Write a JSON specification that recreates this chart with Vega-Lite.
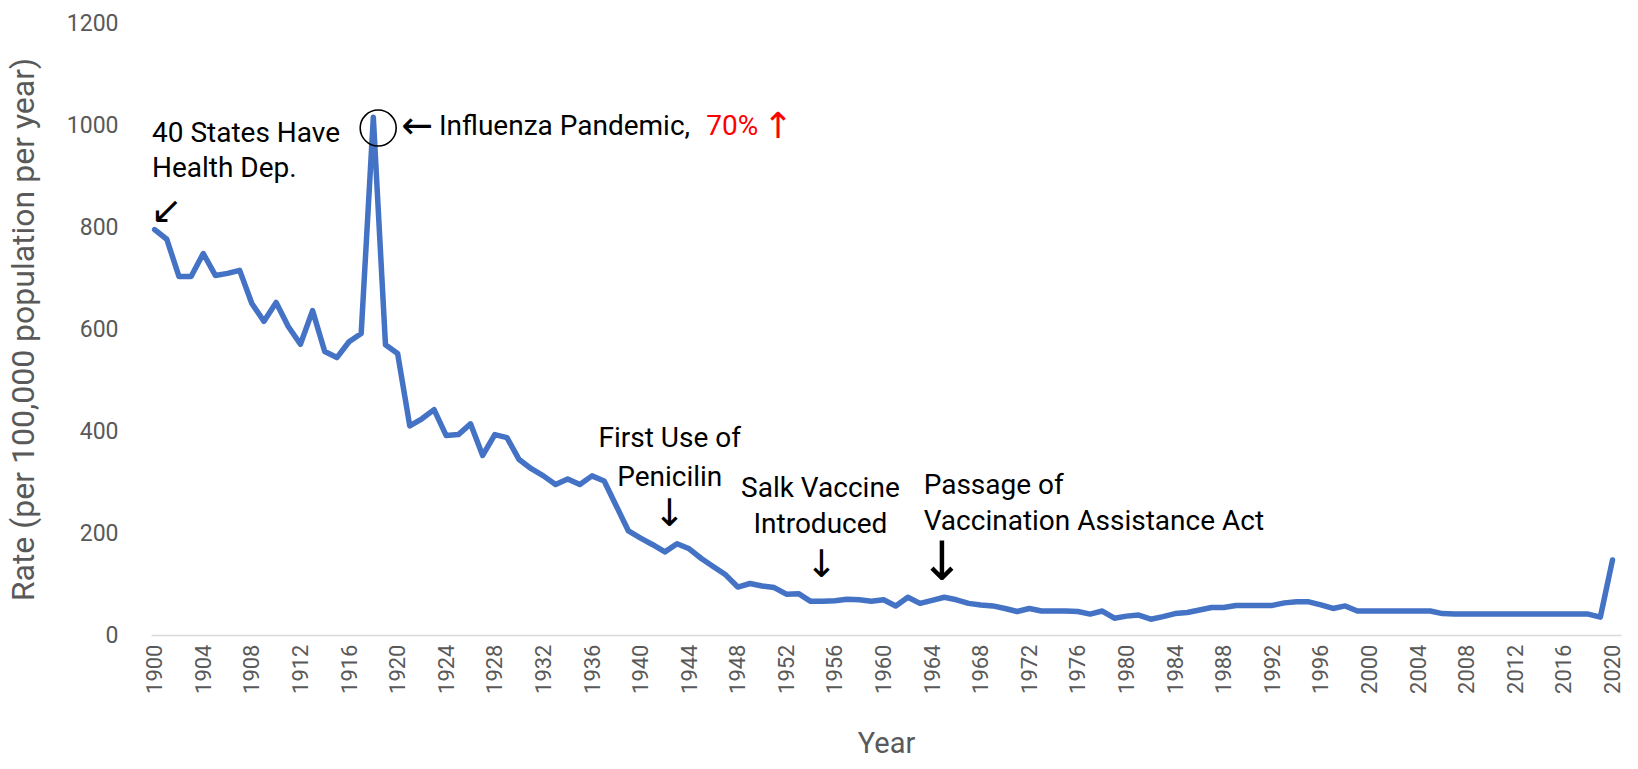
{
  "$schema": "https://vega.github.io/schema/vega-lite/v6.json",
  "width": 1470,
  "height": 612,
  "autosize": "none",
  "padding": {"left": 151, "top": 23, "right": 17, "bottom": 134},
  "background": "white",
  "config": {"view": {"stroke": null}, "font": "Roboto"},
  "datasets": {
    "rates": [
      {"year": 1900, "rate": 795}, {"year": 1901, "rate": 776}, {"year": 1902, "rate": 703}, {"year": 1903, "rate": 703},
      {"year": 1904, "rate": 748}, {"year": 1905, "rate": 705}, {"year": 1906, "rate": 709}, {"year": 1907, "rate": 715},
      {"year": 1908, "rate": 650}, {"year": 1909, "rate": 615}, {"year": 1910, "rate": 652}, {"year": 1911, "rate": 605},
      {"year": 1912, "rate": 570}, {"year": 1913, "rate": 636}, {"year": 1914, "rate": 556}, {"year": 1915, "rate": 544},
      {"year": 1916, "rate": 575}, {"year": 1917, "rate": 591}, {"year": 1918, "rate": 1015}, {"year": 1919, "rate": 569},
      {"year": 1920, "rate": 552}, {"year": 1921, "rate": 410}, {"year": 1922, "rate": 424}, {"year": 1923, "rate": 442},
      {"year": 1924, "rate": 391}, {"year": 1925, "rate": 393}, {"year": 1926, "rate": 414}, {"year": 1927, "rate": 352},
      {"year": 1928, "rate": 393}, {"year": 1929, "rate": 387}, {"year": 1930, "rate": 344}, {"year": 1931, "rate": 326},
      {"year": 1932, "rate": 312}, {"year": 1933, "rate": 295}, {"year": 1934, "rate": 306}, {"year": 1935, "rate": 295},
      {"year": 1936, "rate": 312}, {"year": 1937, "rate": 302}, {"year": 1938, "rate": 253}, {"year": 1939, "rate": 204},
      {"year": 1940, "rate": 190}, {"year": 1941, "rate": 177}, {"year": 1942, "rate": 163}, {"year": 1943, "rate": 179},
      {"year": 1944, "rate": 169}, {"year": 1945, "rate": 150}, {"year": 1946, "rate": 134}, {"year": 1947, "rate": 118},
      {"year": 1948, "rate": 94}, {"year": 1949, "rate": 101}, {"year": 1950, "rate": 96}, {"year": 1951, "rate": 93},
      {"year": 1952, "rate": 80}, {"year": 1953, "rate": 81}, {"year": 1954, "rate": 66}, {"year": 1955, "rate": 66},
      {"year": 1956, "rate": 67}, {"year": 1957, "rate": 70}, {"year": 1958, "rate": 69}, {"year": 1959, "rate": 66},
      {"year": 1960, "rate": 69}, {"year": 1961, "rate": 57}, {"year": 1962, "rate": 74}, {"year": 1963, "rate": 62},
      {"year": 1964, "rate": 68}, {"year": 1965, "rate": 74}, {"year": 1966, "rate": 69}, {"year": 1967, "rate": 62},
      {"year": 1968, "rate": 59}, {"year": 1969, "rate": 57}, {"year": 1970, "rate": 52}, {"year": 1971, "rate": 46},
      {"year": 1972, "rate": 52}, {"year": 1973, "rate": 47}, {"year": 1974, "rate": 47}, {"year": 1975, "rate": 47},
      {"year": 1976, "rate": 46}, {"year": 1977, "rate": 41}, {"year": 1978, "rate": 47}, {"year": 1979, "rate": 33},
      {"year": 1980, "rate": 37}, {"year": 1981, "rate": 39}, {"year": 1982, "rate": 31}, {"year": 1983, "rate": 36},
      {"year": 1984, "rate": 42}, {"year": 1985, "rate": 44}, {"year": 1986, "rate": 49}, {"year": 1987, "rate": 54},
      {"year": 1988, "rate": 54}, {"year": 1989, "rate": 58}, {"year": 1990, "rate": 58}, {"year": 1991, "rate": 58},
      {"year": 1992, "rate": 58}, {"year": 1993, "rate": 63}, {"year": 1994, "rate": 65}, {"year": 1995, "rate": 65},
      {"year": 1996, "rate": 59}, {"year": 1997, "rate": 52}, {"year": 1998, "rate": 57}, {"year": 1999, "rate": 47},
      {"year": 2000, "rate": 47}, {"year": 2001, "rate": 47}, {"year": 2002, "rate": 47}, {"year": 2003, "rate": 47},
      {"year": 2004, "rate": 47}, {"year": 2005, "rate": 47}, {"year": 2006, "rate": 42}, {"year": 2007, "rate": 41},
      {"year": 2008, "rate": 41}, {"year": 2009, "rate": 41}, {"year": 2010, "rate": 41}, {"year": 2011, "rate": 41},
      {"year": 2012, "rate": 41}, {"year": 2013, "rate": 41}, {"year": 2014, "rate": 41}, {"year": 2015, "rate": 41},
      {"year": 2016, "rate": 41}, {"year": 2017, "rate": 41}, {"year": 2018, "rate": 41}, {"year": 2019, "rate": 35},
      {"year": 2020, "rate": 147}
    ],
    "peak": [{"year": 1918.4, "rate": 994}],
    "notesLeft": [
      {"year": 1899.78, "rate": 982, "label": "40 States Have"},
      {"year": 1899.78, "rate": 914, "label": "Health Dep."},
      {"year": 1923.4, "rate": 996, "label": "Influenza Pandemic,"},
      {"year": 1963.3, "rate": 292, "label": "Passage of"},
      {"year": 1963.3, "rate": 222, "label": "Vaccination Assistance Act"}
    ],
    "notesRed": [{"year": 1945.4, "rate": 996, "label": "70%"}],
    "redArrow": [{"year": 1951.3, "rate": 996, "label": "↑"}],
    "notesCenter": [
      {"year": 1942.4, "rate": 384, "label": "First Use of"},
      {"year": 1942.4, "rate": 308, "label": "Penicilin"},
      {"year": 1954.8, "rate": 286, "label": "Salk Vaccine"},
      {"year": 1954.8, "rate": 216, "label": "Introduced"}
    ],
    "arrows": [
      {"year": 1901.0, "rate": 829, "label": "↙"},
      {"year": 1921.6, "rate": 996, "label": "←"},
      {"year": 1942.4, "rate": 235, "label": "↓"},
      {"year": 1954.9, "rate": 135, "label": "↓"}
    ],
    "bigArrow": [{"year": 1964.8, "rate": 139, "label": "↓"}]
  },
  "layer": [
    {
      "data": {"name": "rates"},
      "mark": {"type": "line", "color": "#4472C4", "strokeWidth": 5.5, "strokeJoin": "round", "strokeCap": "round"},
      "encoding": {
        "x": {
          "field": "year", "type": "quantitative",
          "scale": {"domain": [1899.7, 2020.7], "nice": false, "zero": false},
          "axis": {
            "title": "Year", "values": [1900,1904,1908,1912,1916,1920,1924,1928,1932,1936,1940,1944,1948,1952,1956,1960,1964,1968,1972,1976,1980,1984,1988,1992,1996,2000,2004,2008,2012,2016,2020],
            "format": "d", "labelAngle": -90, "labelFontSize": 22, "labelColor": "#595959", "labelPadding": 9,
            "ticks": false, "tickSize": 0, "grid": false, "domainColor": "#D9D9D9", "domainWidth": 1.5,
            "titleFontSize": 29, "titleFontWeight": "normal", "titleColor": "#595959", "titlePadding": 36,
            "labelFont": "Roboto", "titleFont": "Roboto", "labelOverlap": false
          }
        },
        "y": {
          "field": "rate", "type": "quantitative",
          "scale": {"domain": [0, 1200], "nice": false},
          "axis": {
            "title": "Rate (per 100,000 population per year)", "values": [0,200,400,600,800,1000,1200], "format": "d",
            "labelFontSize": 23, "labelColor": "#595959", "labelPadding": 33, "ticks": false, "tickSize": 0,
            "grid": false, "domain": false, "titleFontSize": 32, "titleFontWeight": "normal", "titleColor": "#595959",
            "titlePadding": 26, "labelFont": "Roboto", "titleFont": "Roboto"
          }
        }
      }
    },
    {
      "data": {"name": "peak"},
      "mark": {"type": "point", "shape": "circle", "filled": false, "size": 1296, "stroke": "#000000", "strokeWidth": 1.6, "opacity": 1},
      "encoding": {"x": {"field": "year", "type": "quantitative"}, "y": {"field": "rate", "type": "quantitative"}}
    },
    {
      "data": {"name": "notesLeft"},
      "mark": {"type": "text", "align": "left", "baseline": "middle", "fontSize": 28, "color": "#000000", "font": "Roboto"},
      "encoding": {"x": {"field": "year", "type": "quantitative"}, "y": {"field": "rate", "type": "quantitative"}, "text": {"field": "label"}}
    },
    {
      "data": {"name": "notesRed"},
      "mark": {"type": "text", "align": "left", "baseline": "middle", "fontSize": 28, "color": "#FF0000", "font": "Roboto"},
      "encoding": {"x": {"field": "year", "type": "quantitative"}, "y": {"field": "rate", "type": "quantitative"}, "text": {"field": "label"}}
    },
    {
      "data": {"name": "redArrow"},
      "mark": {"type": "text", "align": "center", "baseline": "middle", "fontSize": 36, "color": "#FF0000", "font": "DejaVu Sans"},
      "encoding": {"x": {"field": "year", "type": "quantitative"}, "y": {"field": "rate", "type": "quantitative"}, "text": {"field": "label"}}
    },
    {
      "data": {"name": "notesCenter"},
      "mark": {"type": "text", "align": "center", "baseline": "middle", "fontSize": 28, "color": "#000000", "font": "Roboto"},
      "encoding": {"x": {"field": "year", "type": "quantitative"}, "y": {"field": "rate", "type": "quantitative"}, "text": {"field": "label"}}
    },
    {
      "data": {"name": "arrows"},
      "mark": {"type": "text", "align": "center", "baseline": "middle", "fontSize": 38, "color": "#000000", "font": "DejaVu Sans"},
      "encoding": {"x": {"field": "year", "type": "quantitative"}, "y": {"field": "rate", "type": "quantitative"}, "text": {"field": "label"}}
    },
    {
      "data": {"name": "bigArrow"},
      "mark": {"type": "text", "align": "center", "baseline": "middle", "fontSize": 54, "color": "#000000", "font": "DejaVu Sans"},
      "encoding": {"x": {"field": "year", "type": "quantitative"}, "y": {"field": "rate", "type": "quantitative"}, "text": {"field": "label"}}
    }
  ]
}
